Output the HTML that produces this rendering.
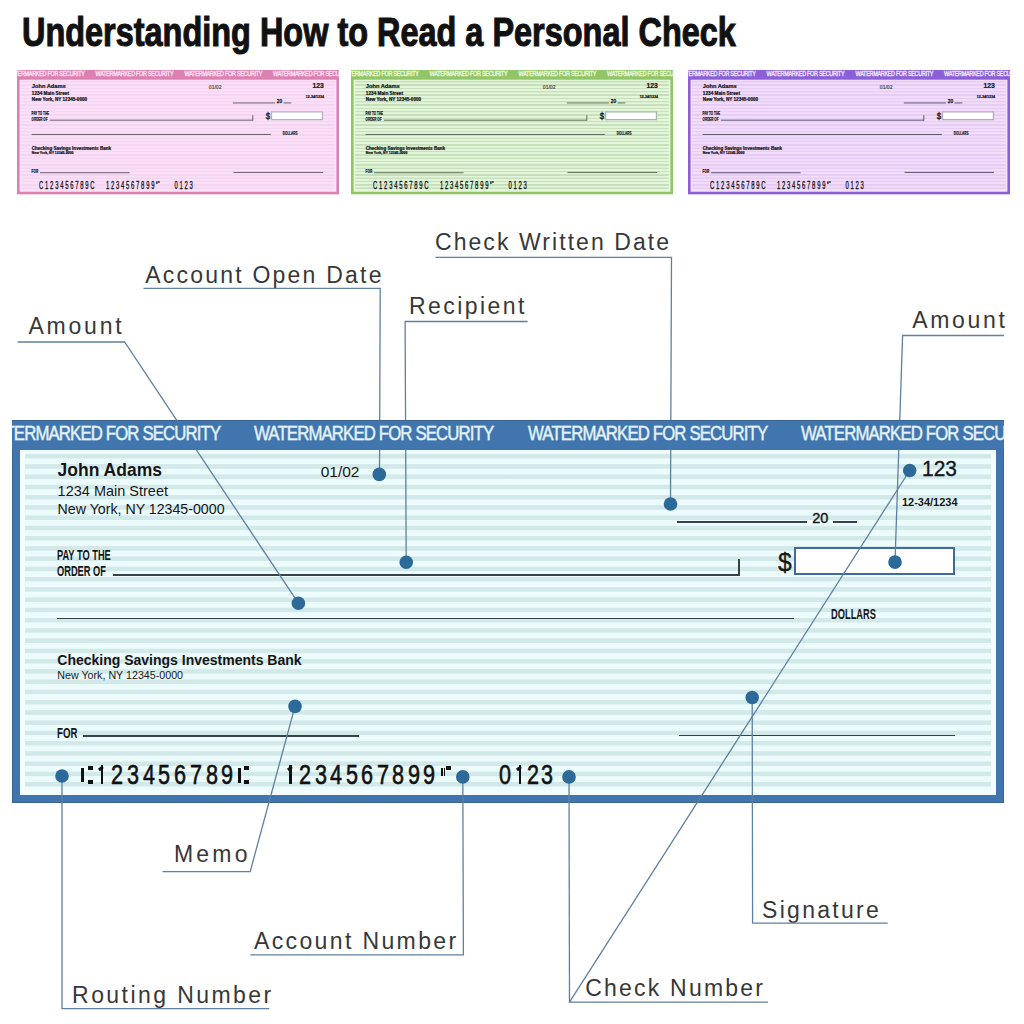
<!DOCTYPE html>
<html><head><meta charset="utf-8"><style>
html,body{margin:0;padding:0;background:#fff;}
body{width:1024px;height:1024px;position:relative;overflow:hidden;font-family:"Liberation Sans",sans-serif;}
.t{position:absolute;white-space:nowrap;}
.chk{position:absolute;left:0;top:0;overflow:hidden}
.sm .t{-webkit-text-stroke-width:0.7px;}
</style></head><body>
<div class="t" style="left:21.50px;top:11.72px;font-size:40.5px;line-height:40.5px;font-weight:700;letter-spacing:0px;color:#111;transform:scaleX(0.801);transform-origin:0 0;-webkit-text-stroke:1.1px #111;">Understanding How to Read a Personal Check</div>
<div class="sm" style="position:absolute;left:16.6px;top:70.3px;width:992px;height:383px;transform:scale(0.3246);transform-origin:0 0"><div class="chk" style="width:992px;height:383px;background:#dc80b2;box-shadow:inset 0 0 0 1px #dc80b2">
<div style="position:absolute;left:0;top:0;width:992px;height:30px;overflow:hidden"><div class="t" style="left:-31.50px;top:3.89px;font-size:19.5px;line-height:19.5px;font-weight:400;letter-spacing:-1.0px;color:#fde0f2;transform:scaleX(0.86);transform-origin:0 0;-webkit-text-stroke:1.1px #fde0f2;">WATERMARKED FOR SECURITY</div><div class="t" style="left:242.10px;top:3.89px;font-size:19.5px;line-height:19.5px;font-weight:400;letter-spacing:-1.0px;color:#fde0f2;transform:scaleX(0.86);transform-origin:0 0;-webkit-text-stroke:1.1px #fde0f2;">WATERMARKED FOR SECURITY</div><div class="t" style="left:515.70px;top:3.89px;font-size:19.5px;line-height:19.5px;font-weight:400;letter-spacing:-1.0px;color:#fde0f2;transform:scaleX(0.86);transform-origin:0 0;-webkit-text-stroke:1.1px #fde0f2;">WATERMARKED FOR SECURITY</div><div class="t" style="left:789.30px;top:3.89px;font-size:19.5px;line-height:19.5px;font-weight:400;letter-spacing:-1.0px;color:#fde0f2;transform:scaleX(0.86);transform-origin:0 0;-webkit-text-stroke:1.1px #fde0f2;">WATERMARKED FOR SECURITY</div></div>
<div style="position:absolute;left:8px;top:30px;width:976px;height:345px;background:#fce4fa;overflow:hidden">
<div style="position:absolute;left:5px;top:0;width:966px;height:340px;background:repeating-linear-gradient(to bottom,#fbdff9 0px,#fbdff9 3.55px,#f5d6f2 4.35px,#f5d6f2 8.05px,#fbdff9 8.85px,#fbdff9 10.25px)"></div>
</div>
<div class="t" style="left:45.60px;top:41.59px;font-size:17.5px;line-height:17.5px;font-weight:700;letter-spacing:0px;color:#151515;">John Adams</div>
<div class="t" style="left:45.60px;top:63.73px;font-size:14.5px;line-height:14.5px;font-weight:700;letter-spacing:0px;color:#151515;">1234 Main Street</div>
<div class="t" style="left:45.60px;top:82.48px;font-size:14.2px;line-height:14.2px;font-weight:700;letter-spacing:0px;color:#151515;">New York, NY 12345-0000</div>
<div class="t" style="left:591.00px;top:43.88px;font-size:15.5px;line-height:15.5px;font-weight:400;letter-spacing:0px;color:#555;">01/02</div>
<div class="t" style="left:910.40px;top:38.25px;font-size:22.5px;line-height:22.5px;font-weight:700;letter-spacing:0px;color:#151515;transform:scaleX(0.93);transform-origin:0 0;-webkit-text-stroke:0.7px #151515;">123</div>
<div class="t" style="left:889.90px;top:77.09px;font-size:11px;line-height:11px;font-weight:700;letter-spacing:0px;color:#151515;">12-34/1234</div>
<div style="position:absolute;left:665.30px;top:100.20px;width:129.90px;height:3.2px;background:#6a5a68"></div>
<div class="t" style="left:800.30px;top:90.53px;font-size:14.5px;line-height:14.5px;font-weight:400;letter-spacing:0px;color:#151515;-webkit-text-stroke:1.0px #151515;">20</div>
<div style="position:absolute;left:820.80px;top:100.20px;width:24.60px;height:3.2px;background:#6a5a68"></div>
<div class="t" style="left:44.60px;top:128.13px;font-size:14.5px;line-height:14.5px;font-weight:700;letter-spacing:0px;color:#151515;transform:scaleX(0.64);transform-origin:0 0;">PAY TO THE</div>
<div class="t" style="left:44.60px;top:143.93px;font-size:14.5px;line-height:14.5px;font-weight:700;letter-spacing:0px;color:#151515;transform:scaleX(0.64);transform-origin:0 0;">ORDER OF</div>
<div style="position:absolute;left:100.70px;top:153.20px;width:626.20px;height:3.2px;background:#6a5a68"></div>
<div style="position:absolute;left:725.30px;top:138.70px;width:3.2px;height:16.90px;background:#6a5a68"></div>
<div class="t" style="left:765.60px;top:129.49px;font-size:26px;line-height:26px;font-weight:400;letter-spacing:0px;color:#151515;transform:scaleX(0.95);transform-origin:0 0;-webkit-text-stroke:1.0px #151515;">$</div>
<div style="position:absolute;left:781.5px;top:126.70000000000005px;width:153.70000000000005px;height:20.0px;border:4px solid #b4b0c8;background:#fff"></div>
<div style="position:absolute;left:45.00px;top:196.80px;width:736.50px;height:3.2px;background:#6a5a68"></div>
<div class="t" style="left:818.60px;top:186.28px;font-size:15.5px;line-height:15.5px;font-weight:700;letter-spacing:0px;color:#151515;transform:scaleX(0.6);transform-origin:0 0;">DOLLARS</div>
<div class="t" style="left:45.30px;top:233.05px;font-size:14px;line-height:14px;font-weight:700;letter-spacing:0px;color:#151515;">Checking Savings Investments Bank</div>
<div class="t" style="left:45.30px;top:249.74px;font-size:10.7px;line-height:10.7px;font-weight:700;letter-spacing:0px;color:#151515;">New York, NY 12345-0000</div>
<div class="t" style="left:45.30px;top:306.15px;font-size:14px;line-height:14px;font-weight:700;letter-spacing:0px;color:#151515;transform:scaleX(0.69);transform-origin:0 0;">FOR</div>
<div style="position:absolute;left:70.50px;top:314.70px;width:276.90px;height:3.2px;background:#6a5a68"></div>
<div style="position:absolute;left:666.75px;top:314.00px;width:276.55px;height:3.2px;background:#6a5a68"></div>
<div class="t" style="left:67.50px;top:338.67px;font-size:33px;line-height:33px;font-weight:400;letter-spacing:9.8px;color:#111;transform:scaleX(0.55);transform-origin:0 0;-webkit-text-stroke:1.0px #111;">C123456789C</div>
<div class="t" style="left:273.50px;top:338.67px;font-size:33px;line-height:33px;font-weight:400;letter-spacing:9.8px;color:#111;transform:scaleX(0.55);transform-origin:0 0;-webkit-text-stroke:1.0px #111;">1234567899</div>
<div class="t" style="left:429px;top:343px;width:4px;height:8px;background:#111"></div><div class="t" style="left:434px;top:343px;width:6px;height:4px;background:#111"></div>
<div class="t" style="left:484.50px;top:338.67px;font-size:33px;line-height:33px;font-weight:400;letter-spacing:9.8px;color:#111;transform:scaleX(0.55);transform-origin:0 0;-webkit-text-stroke:1.0px #111;">0123</div>
</div></div>
<div class="sm" style="position:absolute;left:350.5px;top:70.3px;width:992px;height:383px;transform:scale(0.3246);transform-origin:0 0"><div class="chk" style="width:992px;height:383px;background:#92c568;box-shadow:inset 0 0 0 1px #92c568">
<div style="position:absolute;left:0;top:0;width:992px;height:30px;overflow:hidden"><div class="t" style="left:-31.50px;top:3.89px;font-size:19.5px;line-height:19.5px;font-weight:400;letter-spacing:-1.0px;color:#e8f7dc;transform:scaleX(0.86);transform-origin:0 0;-webkit-text-stroke:1.1px #e8f7dc;">WATERMARKED FOR SECURITY</div><div class="t" style="left:242.10px;top:3.89px;font-size:19.5px;line-height:19.5px;font-weight:400;letter-spacing:-1.0px;color:#e8f7dc;transform:scaleX(0.86);transform-origin:0 0;-webkit-text-stroke:1.1px #e8f7dc;">WATERMARKED FOR SECURITY</div><div class="t" style="left:515.70px;top:3.89px;font-size:19.5px;line-height:19.5px;font-weight:400;letter-spacing:-1.0px;color:#e8f7dc;transform:scaleX(0.86);transform-origin:0 0;-webkit-text-stroke:1.1px #e8f7dc;">WATERMARKED FOR SECURITY</div><div class="t" style="left:789.30px;top:3.89px;font-size:19.5px;line-height:19.5px;font-weight:400;letter-spacing:-1.0px;color:#e8f7dc;transform:scaleX(0.86);transform-origin:0 0;-webkit-text-stroke:1.1px #e8f7dc;">WATERMARKED FOR SECURITY</div></div>
<div style="position:absolute;left:8px;top:30px;width:976px;height:345px;background:#e6f9dc;overflow:hidden">
<div style="position:absolute;left:5px;top:0;width:966px;height:340px;background:repeating-linear-gradient(to bottom,#e2f7d9 0px,#e2f7d9 3.55px,#c8dfbc 4.35px,#c8dfbc 8.05px,#e2f7d9 8.85px,#e2f7d9 10.25px)"></div>
</div>
<div class="t" style="left:45.60px;top:41.59px;font-size:17.5px;line-height:17.5px;font-weight:700;letter-spacing:0px;color:#151515;">John Adams</div>
<div class="t" style="left:45.60px;top:63.73px;font-size:14.5px;line-height:14.5px;font-weight:700;letter-spacing:0px;color:#151515;">1234 Main Street</div>
<div class="t" style="left:45.60px;top:82.48px;font-size:14.2px;line-height:14.2px;font-weight:700;letter-spacing:0px;color:#151515;">New York, NY 12345-0000</div>
<div class="t" style="left:591.00px;top:43.88px;font-size:15.5px;line-height:15.5px;font-weight:400;letter-spacing:0px;color:#555;">01/02</div>
<div class="t" style="left:910.40px;top:38.25px;font-size:22.5px;line-height:22.5px;font-weight:700;letter-spacing:0px;color:#151515;transform:scaleX(0.93);transform-origin:0 0;-webkit-text-stroke:0.7px #151515;">123</div>
<div class="t" style="left:889.90px;top:77.09px;font-size:11px;line-height:11px;font-weight:700;letter-spacing:0px;color:#151515;">12-34/1234</div>
<div style="position:absolute;left:665.30px;top:100.20px;width:129.90px;height:3.2px;background:#5a6a55"></div>
<div class="t" style="left:800.30px;top:90.53px;font-size:14.5px;line-height:14.5px;font-weight:400;letter-spacing:0px;color:#151515;-webkit-text-stroke:1.0px #151515;">20</div>
<div style="position:absolute;left:820.80px;top:100.20px;width:24.60px;height:3.2px;background:#5a6a55"></div>
<div class="t" style="left:44.60px;top:128.13px;font-size:14.5px;line-height:14.5px;font-weight:700;letter-spacing:0px;color:#151515;transform:scaleX(0.64);transform-origin:0 0;">PAY TO THE</div>
<div class="t" style="left:44.60px;top:143.93px;font-size:14.5px;line-height:14.5px;font-weight:700;letter-spacing:0px;color:#151515;transform:scaleX(0.64);transform-origin:0 0;">ORDER OF</div>
<div style="position:absolute;left:100.70px;top:153.20px;width:626.20px;height:3.2px;background:#5a6a55"></div>
<div style="position:absolute;left:725.30px;top:138.70px;width:3.2px;height:16.90px;background:#5a6a55"></div>
<div class="t" style="left:765.60px;top:129.49px;font-size:26px;line-height:26px;font-weight:400;letter-spacing:0px;color:#151515;transform:scaleX(0.95);transform-origin:0 0;-webkit-text-stroke:1.0px #151515;">$</div>
<div style="position:absolute;left:781.5px;top:126.70000000000005px;width:153.70000000000005px;height:20.0px;border:4px solid #a8b4a8;background:#fff"></div>
<div style="position:absolute;left:45.00px;top:196.80px;width:736.50px;height:3.2px;background:#5a6a55"></div>
<div class="t" style="left:818.60px;top:186.28px;font-size:15.5px;line-height:15.5px;font-weight:700;letter-spacing:0px;color:#151515;transform:scaleX(0.6);transform-origin:0 0;">DOLLARS</div>
<div class="t" style="left:45.30px;top:233.05px;font-size:14px;line-height:14px;font-weight:700;letter-spacing:0px;color:#151515;">Checking Savings Investments Bank</div>
<div class="t" style="left:45.30px;top:249.74px;font-size:10.7px;line-height:10.7px;font-weight:700;letter-spacing:0px;color:#151515;">New York, NY 12345-0000</div>
<div class="t" style="left:45.30px;top:306.15px;font-size:14px;line-height:14px;font-weight:700;letter-spacing:0px;color:#151515;transform:scaleX(0.69);transform-origin:0 0;">FOR</div>
<div style="position:absolute;left:70.50px;top:314.70px;width:276.90px;height:3.2px;background:#5a6a55"></div>
<div style="position:absolute;left:666.75px;top:314.00px;width:276.55px;height:3.2px;background:#5a6a55"></div>
<div class="t" style="left:67.50px;top:338.67px;font-size:33px;line-height:33px;font-weight:400;letter-spacing:9.8px;color:#111;transform:scaleX(0.55);transform-origin:0 0;-webkit-text-stroke:1.0px #111;">C123456789C</div>
<div class="t" style="left:273.50px;top:338.67px;font-size:33px;line-height:33px;font-weight:400;letter-spacing:9.8px;color:#111;transform:scaleX(0.55);transform-origin:0 0;-webkit-text-stroke:1.0px #111;">1234567899</div>
<div class="t" style="left:429px;top:343px;width:4px;height:8px;background:#111"></div><div class="t" style="left:434px;top:343px;width:6px;height:4px;background:#111"></div>
<div class="t" style="left:484.50px;top:338.67px;font-size:33px;line-height:33px;font-weight:400;letter-spacing:9.8px;color:#111;transform:scaleX(0.55);transform-origin:0 0;-webkit-text-stroke:1.0px #111;">0123</div>
</div></div>
<div class="sm" style="position:absolute;left:688.2px;top:70.3px;width:992px;height:383px;transform:scale(0.3246);transform-origin:0 0"><div class="chk" style="width:992px;height:383px;background:#8a5fd8;box-shadow:inset 0 0 0 1px #8a5fd8">
<div style="position:absolute;left:0;top:0;width:992px;height:30px;overflow:hidden"><div class="t" style="left:-31.50px;top:3.89px;font-size:19.5px;line-height:19.5px;font-weight:400;letter-spacing:-1.0px;color:#efe4fd;transform:scaleX(0.86);transform-origin:0 0;-webkit-text-stroke:1.1px #efe4fd;">WATERMARKED FOR SECURITY</div><div class="t" style="left:242.10px;top:3.89px;font-size:19.5px;line-height:19.5px;font-weight:400;letter-spacing:-1.0px;color:#efe4fd;transform:scaleX(0.86);transform-origin:0 0;-webkit-text-stroke:1.1px #efe4fd;">WATERMARKED FOR SECURITY</div><div class="t" style="left:515.70px;top:3.89px;font-size:19.5px;line-height:19.5px;font-weight:400;letter-spacing:-1.0px;color:#efe4fd;transform:scaleX(0.86);transform-origin:0 0;-webkit-text-stroke:1.1px #efe4fd;">WATERMARKED FOR SECURITY</div><div class="t" style="left:789.30px;top:3.89px;font-size:19.5px;line-height:19.5px;font-weight:400;letter-spacing:-1.0px;color:#efe4fd;transform:scaleX(0.86);transform-origin:0 0;-webkit-text-stroke:1.1px #efe4fd;">WATERMARKED FOR SECURITY</div></div>
<div style="position:absolute;left:8px;top:30px;width:976px;height:345px;background:#f6e2fc;overflow:hidden">
<div style="position:absolute;left:5px;top:0;width:966px;height:340px;background:repeating-linear-gradient(to bottom,#f3dbfb 0px,#f3dbfb 3.55px,#e6cdf3 4.35px,#e6cdf3 8.05px,#f3dbfb 8.85px,#f3dbfb 10.25px)"></div>
</div>
<div class="t" style="left:45.60px;top:41.59px;font-size:17.5px;line-height:17.5px;font-weight:700;letter-spacing:0px;color:#151515;">John Adams</div>
<div class="t" style="left:45.60px;top:63.73px;font-size:14.5px;line-height:14.5px;font-weight:700;letter-spacing:0px;color:#151515;">1234 Main Street</div>
<div class="t" style="left:45.60px;top:82.48px;font-size:14.2px;line-height:14.2px;font-weight:700;letter-spacing:0px;color:#151515;">New York, NY 12345-0000</div>
<div class="t" style="left:591.00px;top:43.88px;font-size:15.5px;line-height:15.5px;font-weight:400;letter-spacing:0px;color:#555;">01/02</div>
<div class="t" style="left:910.40px;top:38.25px;font-size:22.5px;line-height:22.5px;font-weight:700;letter-spacing:0px;color:#151515;transform:scaleX(0.93);transform-origin:0 0;-webkit-text-stroke:0.7px #151515;">123</div>
<div class="t" style="left:889.90px;top:77.09px;font-size:11px;line-height:11px;font-weight:700;letter-spacing:0px;color:#151515;">12-34/1234</div>
<div style="position:absolute;left:665.30px;top:100.20px;width:129.90px;height:3.2px;background:#5a5068"></div>
<div class="t" style="left:800.30px;top:90.53px;font-size:14.5px;line-height:14.5px;font-weight:400;letter-spacing:0px;color:#151515;-webkit-text-stroke:1.0px #151515;">20</div>
<div style="position:absolute;left:820.80px;top:100.20px;width:24.60px;height:3.2px;background:#5a5068"></div>
<div class="t" style="left:44.60px;top:128.13px;font-size:14.5px;line-height:14.5px;font-weight:700;letter-spacing:0px;color:#151515;transform:scaleX(0.64);transform-origin:0 0;">PAY TO THE</div>
<div class="t" style="left:44.60px;top:143.93px;font-size:14.5px;line-height:14.5px;font-weight:700;letter-spacing:0px;color:#151515;transform:scaleX(0.64);transform-origin:0 0;">ORDER OF</div>
<div style="position:absolute;left:100.70px;top:153.20px;width:626.20px;height:3.2px;background:#5a5068"></div>
<div style="position:absolute;left:725.30px;top:138.70px;width:3.2px;height:16.90px;background:#5a5068"></div>
<div class="t" style="left:765.60px;top:129.49px;font-size:26px;line-height:26px;font-weight:400;letter-spacing:0px;color:#151515;transform:scaleX(0.95);transform-origin:0 0;-webkit-text-stroke:1.0px #151515;">$</div>
<div style="position:absolute;left:781.5px;top:126.70000000000005px;width:153.70000000000005px;height:20.0px;border:4px solid #b0a8c0;background:#fff"></div>
<div style="position:absolute;left:45.00px;top:196.80px;width:736.50px;height:3.2px;background:#5a5068"></div>
<div class="t" style="left:818.60px;top:186.28px;font-size:15.5px;line-height:15.5px;font-weight:700;letter-spacing:0px;color:#151515;transform:scaleX(0.6);transform-origin:0 0;">DOLLARS</div>
<div class="t" style="left:45.30px;top:233.05px;font-size:14px;line-height:14px;font-weight:700;letter-spacing:0px;color:#151515;">Checking Savings Investments Bank</div>
<div class="t" style="left:45.30px;top:249.74px;font-size:10.7px;line-height:10.7px;font-weight:700;letter-spacing:0px;color:#151515;">New York, NY 12345-0000</div>
<div class="t" style="left:45.30px;top:306.15px;font-size:14px;line-height:14px;font-weight:700;letter-spacing:0px;color:#151515;transform:scaleX(0.69);transform-origin:0 0;">FOR</div>
<div style="position:absolute;left:70.50px;top:314.70px;width:276.90px;height:3.2px;background:#5a5068"></div>
<div style="position:absolute;left:666.75px;top:314.00px;width:276.55px;height:3.2px;background:#5a5068"></div>
<div class="t" style="left:67.50px;top:338.67px;font-size:33px;line-height:33px;font-weight:400;letter-spacing:9.8px;color:#111;transform:scaleX(0.55);transform-origin:0 0;-webkit-text-stroke:1.0px #111;">C123456789C</div>
<div class="t" style="left:273.50px;top:338.67px;font-size:33px;line-height:33px;font-weight:400;letter-spacing:9.8px;color:#111;transform:scaleX(0.55);transform-origin:0 0;-webkit-text-stroke:1.0px #111;">1234567899</div>
<div class="t" style="left:429px;top:343px;width:4px;height:8px;background:#111"></div><div class="t" style="left:434px;top:343px;width:6px;height:4px;background:#111"></div>
<div class="t" style="left:484.50px;top:338.67px;font-size:33px;line-height:33px;font-weight:400;letter-spacing:9.8px;color:#111;transform:scaleX(0.55);transform-origin:0 0;-webkit-text-stroke:1.0px #111;">0123</div>
</div></div>
<div style="position:absolute;left:12px;top:420px;width:992px;height:383px"><div class="chk" style="width:992px;height:383px;background:#4175ad;box-shadow:inset 0 0 0 1px #3a6490">
<div style="position:absolute;left:0;top:0;width:992px;height:30px;overflow:hidden"><div class="t" style="left:-31.50px;top:3.89px;font-size:19.5px;line-height:19.5px;font-weight:400;letter-spacing:-1.0px;color:#e4f3fb;transform:scaleX(0.86);transform-origin:0 0;-webkit-text-stroke:1.1px #e4f3fb;">WATERMARKED FOR SECURITY</div><div class="t" style="left:242.10px;top:3.89px;font-size:19.5px;line-height:19.5px;font-weight:400;letter-spacing:-1.0px;color:#e4f3fb;transform:scaleX(0.86);transform-origin:0 0;-webkit-text-stroke:1.1px #e4f3fb;">WATERMARKED FOR SECURITY</div><div class="t" style="left:515.70px;top:3.89px;font-size:19.5px;line-height:19.5px;font-weight:400;letter-spacing:-1.0px;color:#e4f3fb;transform:scaleX(0.86);transform-origin:0 0;-webkit-text-stroke:1.1px #e4f3fb;">WATERMARKED FOR SECURITY</div><div class="t" style="left:789.30px;top:3.89px;font-size:19.5px;line-height:19.5px;font-weight:400;letter-spacing:-1.0px;color:#e4f3fb;transform:scaleX(0.86);transform-origin:0 0;-webkit-text-stroke:1.1px #e4f3fb;">WATERMARKED FOR SECURITY</div></div>
<div style="position:absolute;left:8px;top:30px;width:976px;height:345px;background:#f3fdfd;overflow:hidden">
<div style="position:absolute;left:5px;top:0;width:966px;height:340px;background:repeating-linear-gradient(to bottom,#ecfcfc 0px,#ecfcfc 3.55px,#d3e8e9 4.35px,#d3e8e9 8.05px,#ecfcfc 8.85px,#ecfcfc 10.25px)"></div>
</div>
<div class="t" style="left:45.60px;top:41.59px;font-size:17.5px;line-height:17.5px;font-weight:700;letter-spacing:0px;color:#161616;">John Adams</div>
<div class="t" style="left:45.60px;top:63.73px;font-size:14.5px;line-height:14.5px;font-weight:400;letter-spacing:0px;color:#161616;">1234 Main Street</div>
<div class="t" style="left:45.60px;top:82.48px;font-size:14.2px;line-height:14.2px;font-weight:400;letter-spacing:0px;color:#161616;">New York, NY 12345-0000</div>
<div class="t" style="left:308.70px;top:43.88px;font-size:15.5px;line-height:15.5px;font-weight:400;letter-spacing:0px;color:#161616;">01/02</div>
<div class="t" style="left:910.40px;top:38.25px;font-size:22.5px;line-height:22.5px;font-weight:400;letter-spacing:0px;color:#161616;transform:scaleX(0.93);transform-origin:0 0;-webkit-text-stroke:0.35px #161616;">123</div>
<div class="t" style="left:889.90px;top:77.09px;font-size:11px;line-height:11px;font-weight:700;letter-spacing:0px;color:#161616;">12-34/1234</div>
<div style="position:absolute;left:665.30px;top:100.90px;width:129.90px;height:1.8px;background:#364248"></div>
<div class="t" style="left:800.30px;top:90.53px;font-size:14.5px;line-height:14.5px;font-weight:400;letter-spacing:0px;color:#161616;-webkit-text-stroke:0.4px #161616;">20</div>
<div style="position:absolute;left:820.80px;top:100.90px;width:24.60px;height:1.8px;background:#364248"></div>
<div class="t" style="left:44.60px;top:128.13px;font-size:14.5px;line-height:14.5px;font-weight:700;letter-spacing:0px;color:#161616;transform:scaleX(0.64);transform-origin:0 0;">PAY TO THE</div>
<div class="t" style="left:44.60px;top:143.93px;font-size:14.5px;line-height:14.5px;font-weight:700;letter-spacing:0px;color:#161616;transform:scaleX(0.64);transform-origin:0 0;">ORDER OF</div>
<div style="position:absolute;left:100.70px;top:153.90px;width:626.20px;height:1.8px;background:#364248"></div>
<div style="position:absolute;left:726.00px;top:138.70px;width:1.8px;height:16.90px;background:#364248"></div>
<div class="t" style="left:765.60px;top:129.49px;font-size:26px;line-height:26px;font-weight:400;letter-spacing:0px;color:#161616;transform:scaleX(0.95);transform-origin:0 0;-webkit-text-stroke:0.35px #161616;">$</div>
<div style="position:absolute;left:781.5px;top:126.70000000000005px;width:157.70000000000005px;height:24.0px;border:2px solid #3e6b9c;background:#fff"></div>
<div style="position:absolute;left:45.00px;top:197.50px;width:736.50px;height:1.8px;background:#364248"></div>
<div class="t" style="left:818.60px;top:186.28px;font-size:15.5px;line-height:15.5px;font-weight:700;letter-spacing:0px;color:#161616;transform:scaleX(0.6);transform-origin:0 0;">DOLLARS</div>
<div class="t" style="left:45.30px;top:233.05px;font-size:14px;line-height:14px;font-weight:700;letter-spacing:0px;color:#161616;">Checking Savings Investments Bank</div>
<div class="t" style="left:45.30px;top:249.74px;font-size:10.7px;line-height:10.7px;font-weight:400;letter-spacing:0px;color:#161616;">New York, NY 12345-0000</div>
<div class="t" style="left:45.30px;top:306.15px;font-size:14px;line-height:14px;font-weight:700;letter-spacing:0px;color:#161616;transform:scaleX(0.69);transform-origin:0 0;">FOR</div>
<div style="position:absolute;left:70.50px;top:315.40px;width:276.90px;height:1.8px;background:#364248"></div>
<div style="position:absolute;left:666.75px;top:314.70px;width:276.55px;height:1.8px;background:#364248"></div>
<div class="t" style="left:69.00px;top:348.20px;width:3.40px;height:14.10px;background:#111"></div>
<div class="t" style="left:76.10px;top:346.30px;width:4.50px;height:4.10px;background:#111"></div>
<div class="t" style="left:76.10px;top:360.30px;width:4.50px;height:3.90px;background:#111"></div>
<div class="t" style="left:88.70px;top:345.30px;width:2.50px;height:19.10px;background:#111"></div>
<div class="t" style="left:85.20px;top:345.60px;width:4.6px;height:2.8px;background:#111;transform:rotate(-38deg);transform-origin:100% 0"></div>
<div class="t" style="left:85.30px;width:40px;text-align:center;top:341.54px;font-size:27px;line-height:27px;color:#111;transform:scaleX(0.8);-webkit-text-stroke:0.6px #111">2</div>
<div class="t" style="left:101.00px;width:40px;text-align:center;top:341.54px;font-size:27px;line-height:27px;color:#111;transform:scaleX(0.8);-webkit-text-stroke:0.6px #111">3</div>
<div class="t" style="left:116.70px;width:40px;text-align:center;top:341.54px;font-size:27px;line-height:27px;color:#111;transform:scaleX(0.8);-webkit-text-stroke:0.6px #111">4</div>
<div class="t" style="left:132.40px;width:40px;text-align:center;top:341.54px;font-size:27px;line-height:27px;color:#111;transform:scaleX(0.8);-webkit-text-stroke:0.6px #111">5</div>
<div class="t" style="left:148.10px;width:40px;text-align:center;top:341.54px;font-size:27px;line-height:27px;color:#111;transform:scaleX(0.8);-webkit-text-stroke:0.6px #111">6</div>
<div class="t" style="left:163.80px;width:40px;text-align:center;top:341.54px;font-size:27px;line-height:27px;color:#111;transform:scaleX(0.8);-webkit-text-stroke:0.6px #111">7</div>
<div class="t" style="left:179.50px;width:40px;text-align:center;top:341.54px;font-size:27px;line-height:27px;color:#111;transform:scaleX(0.8);-webkit-text-stroke:0.6px #111">8</div>
<div class="t" style="left:195.20px;width:40px;text-align:center;top:341.54px;font-size:27px;line-height:27px;color:#111;transform:scaleX(0.8);-webkit-text-stroke:0.6px #111">9</div>
<div class="t" style="left:226.00px;top:348.20px;width:3.00px;height:14.80px;background:#111"></div>
<div class="t" style="left:232.30px;top:346.30px;width:5.10px;height:3.90px;background:#111"></div>
<div class="t" style="left:232.30px;top:359.90px;width:5.10px;height:4.50px;background:#111"></div>
<div class="t" style="left:277.00px;top:345.30px;width:2.50px;height:19.10px;background:#111"></div>
<div class="t" style="left:273.50px;top:345.60px;width:4.6px;height:2.8px;background:#111;transform:rotate(-38deg);transform-origin:100% 0"></div>
<div class="t" style="left:273.38px;width:40px;text-align:center;top:341.54px;font-size:27px;line-height:27px;color:#111;transform:scaleX(0.8);-webkit-text-stroke:0.6px #111">2</div>
<div class="t" style="left:288.86px;width:40px;text-align:center;top:341.54px;font-size:27px;line-height:27px;color:#111;transform:scaleX(0.8);-webkit-text-stroke:0.6px #111">3</div>
<div class="t" style="left:304.34px;width:40px;text-align:center;top:341.54px;font-size:27px;line-height:27px;color:#111;transform:scaleX(0.8);-webkit-text-stroke:0.6px #111">4</div>
<div class="t" style="left:319.82px;width:40px;text-align:center;top:341.54px;font-size:27px;line-height:27px;color:#111;transform:scaleX(0.8);-webkit-text-stroke:0.6px #111">5</div>
<div class="t" style="left:335.30px;width:40px;text-align:center;top:341.54px;font-size:27px;line-height:27px;color:#111;transform:scaleX(0.8);-webkit-text-stroke:0.6px #111">6</div>
<div class="t" style="left:350.78px;width:40px;text-align:center;top:341.54px;font-size:27px;line-height:27px;color:#111;transform:scaleX(0.8);-webkit-text-stroke:0.6px #111">7</div>
<div class="t" style="left:366.26px;width:40px;text-align:center;top:341.54px;font-size:27px;line-height:27px;color:#111;transform:scaleX(0.8);-webkit-text-stroke:0.6px #111">8</div>
<div class="t" style="left:381.74px;width:40px;text-align:center;top:341.54px;font-size:27px;line-height:27px;color:#111;transform:scaleX(0.8);-webkit-text-stroke:0.6px #111">9</div>
<div class="t" style="left:397.22px;width:40px;text-align:center;top:341.54px;font-size:27px;line-height:27px;color:#111;transform:scaleX(0.8);-webkit-text-stroke:0.6px #111">9</div>
<div class="t" style="left:429.10px;top:348.20px;width:1.80px;height:7.40px;background:#111"></div>
<div class="t" style="left:431.60px;top:348.20px;width:1.80px;height:7.40px;background:#111"></div>
<div class="t" style="left:434.20px;top:345.90px;width:4.70px;height:4.60px;background:#111"></div>
<div class="t" style="left:472.50px;width:40px;text-align:center;top:341.54px;font-size:27px;line-height:27px;color:#111;transform:scaleX(0.8);-webkit-text-stroke:0.6px #111">0</div>
<div class="t" style="left:506.90px;top:345.30px;width:2.50px;height:19.10px;background:#111"></div>
<div class="t" style="left:503.40px;top:345.60px;width:4.6px;height:2.8px;background:#111;transform:rotate(-38deg);transform-origin:100% 0"></div>
<div class="t" style="left:501.00px;width:40px;text-align:center;top:341.54px;font-size:27px;line-height:27px;color:#111;transform:scaleX(0.8);-webkit-text-stroke:0.6px #111">2</div>
<div class="t" style="left:515.20px;width:40px;text-align:center;top:341.54px;font-size:27px;line-height:27px;color:#111;transform:scaleX(0.8);-webkit-text-stroke:0.6px #111">3</div>
</div></div>
<div class="t" style="left:28.40px;top:315.43px;font-size:23px;line-height:23px;font-weight:400;letter-spacing:2.8px;color:#383838;">Amount</div>
<div class="t" style="left:145.20px;top:264.13px;font-size:23px;line-height:23px;font-weight:400;letter-spacing:2.22px;color:#383838;">Account Open Date</div>
<div class="t" style="left:409.10px;top:294.73px;font-size:23px;line-height:23px;font-weight:400;letter-spacing:2.42px;color:#383838;">Recipient</div>
<div class="t" style="left:435.00px;top:231.43px;font-size:23px;line-height:23px;font-weight:400;letter-spacing:2.06px;color:#383838;">Check Written Date</div>
<div class="t" style="left:912.20px;top:308.53px;font-size:23px;line-height:23px;font-weight:400;letter-spacing:2.7px;color:#383838;">Amount</div>
<div class="t" style="left:174.00px;top:842.83px;font-size:23px;line-height:23px;font-weight:400;letter-spacing:3.2px;color:#383838;">Memo</div>
<div class="t" style="left:72.10px;top:983.73px;font-size:23px;line-height:23px;font-weight:400;letter-spacing:2.43px;color:#383838;">Routing Number</div>
<div class="t" style="left:254.00px;top:930.13px;font-size:23px;line-height:23px;font-weight:400;letter-spacing:2.37px;color:#383838;">Account Number</div>
<div class="t" style="left:585.20px;top:976.73px;font-size:23px;line-height:23px;font-weight:400;letter-spacing:2.22px;color:#383838;">Check Number</div>
<div class="t" style="left:762.00px;top:898.73px;font-size:23px;line-height:23px;font-weight:400;letter-spacing:2.3px;color:#383838;">Signature</div>
<svg width="1024" height="1024" style="position:absolute;left:0;top:0"><polyline points="17.8,342 124.6,342 298.4,603.2" fill="none" stroke="#5f80a0" stroke-width="1.3"/><circle cx="298.4" cy="603.2" r="6.8" fill="#2e6a99"/><polyline points="143.5,288.4 380.2,288.4 379.5,474.4" fill="none" stroke="#5f80a0" stroke-width="1.3"/><circle cx="379.3" cy="474.4" r="6.8" fill="#2e6a99"/><polyline points="527.6,321.5 405.1,321.5 406.2,562.3" fill="none" stroke="#5f80a0" stroke-width="1.3"/><circle cx="406.25" cy="562.3" r="6.8" fill="#2e6a99"/><polyline points="435.5,257.3 671.5,257.3 670.5,504" fill="none" stroke="#5f80a0" stroke-width="1.3"/><circle cx="670.5" cy="504" r="6.8" fill="#2e6a99"/><polyline points="1004,335.5 902.6,335.5 895,562.1" fill="none" stroke="#5f80a0" stroke-width="1.3"/><circle cx="895" cy="562.1" r="6.8" fill="#2e6a99"/><polyline points="162.6,871.6 250.2,871.6 295,706.4" fill="none" stroke="#5f80a0" stroke-width="1.3"/><circle cx="295" cy="706.4" r="6.8" fill="#2e6a99"/><polyline points="62,776 62,1008.7 269.2,1008.7" fill="none" stroke="#5f80a0" stroke-width="1.3"/><circle cx="62" cy="776" r="6.8" fill="#2e6a99"/><polyline points="462.8,776.9 463.4,954.9 250.3,954.9" fill="none" stroke="#5f80a0" stroke-width="1.3"/><circle cx="462.8" cy="776.9" r="6.8" fill="#2e6a99"/><polyline points="909.7,470.5 569.5,1002.2 768,1002.2" fill="none" stroke="#5f80a0" stroke-width="1.3"/><polyline points="569,776.9 569.5,1002.2" fill="none" stroke="#5f80a0" stroke-width="1.3"/><circle cx="909.7" cy="470.5" r="6.8" fill="#2e6a99"/><circle cx="569" cy="776.9" r="6.8" fill="#2e6a99"/><polyline points="752.2,697.5 752.6,923.1 887.7,923.1" fill="none" stroke="#5f80a0" stroke-width="1.3"/><circle cx="752.2" cy="697.5" r="6.8" fill="#2e6a99"/></svg>
<div style="position:absolute;left:12px;top:420px;width:992px;height:30px;overflow:hidden;background:rgba(65,117,173,0.82);box-shadow:inset 0 1px 0 #3a6390"><div class="t" style="left:-31.50px;top:3.89px;font-size:19.5px;line-height:19.5px;font-weight:400;letter-spacing:-1.0px;color:#e4f3fb;transform:scaleX(0.86);transform-origin:0 0;-webkit-text-stroke:0.3px #e4f3fb;">WATERMARKED FOR SECURITY</div><div class="t" style="left:242.10px;top:3.89px;font-size:19.5px;line-height:19.5px;font-weight:400;letter-spacing:-1.0px;color:#e4f3fb;transform:scaleX(0.86);transform-origin:0 0;-webkit-text-stroke:0.3px #e4f3fb;">WATERMARKED FOR SECURITY</div><div class="t" style="left:515.70px;top:3.89px;font-size:19.5px;line-height:19.5px;font-weight:400;letter-spacing:-1.0px;color:#e4f3fb;transform:scaleX(0.86);transform-origin:0 0;-webkit-text-stroke:0.3px #e4f3fb;">WATERMARKED FOR SECURITY</div><div class="t" style="left:789.30px;top:3.89px;font-size:19.5px;line-height:19.5px;font-weight:400;letter-spacing:-1.0px;color:#e4f3fb;transform:scaleX(0.86);transform-origin:0 0;-webkit-text-stroke:0.3px #e4f3fb;">WATERMARKED FOR SECURITY</div></div>
</body></html>
